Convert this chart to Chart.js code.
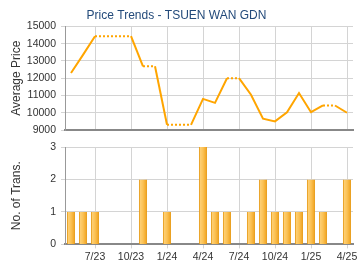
<!DOCTYPE html>
<html>
<head>
<meta charset="utf-8">
<script src="https://cdn.jsdelivr.net/npm/chart.js@4.4.1/dist/chart.umd.min.js"></script>
<style>
  body { margin: 0; background: #fff; }
  canvas { display: block; }
</style>
</head>
<body>
<canvas id="priceChart" width="360" height="135"></canvas>
<canvas id="transChart" width="360" height="135"></canvas>
<script>
var months = ['5/23','6/23','7/23','8/23','9/23','10/23','11/23','12/23',
              '1/24','2/24','3/24','4/24','5/24','6/24','7/24','8/24',
              '9/24','10/24','11/24','12/24','1/25','2/25','3/25','4/25'];
var avgPrice = [12300, 13350, 14430, 14430, 14430, 14430, 12690, 12690,
                9300, 9300, 9300, 10800, 10570, 12000, 12000, 11040,
                9660, 9500, 10030, 11140, 10030, 10420, 10420, 10000];
var transCount = [1, 1, 1, 0, 0, 0, 2, 0, 1, 0, 0, 3, 1, 1, 0, 1, 2, 1, 1, 1, 2, 1, 0, 2];
var priceTicks = [9000, 15000, 1000];
var countTicks = [0, 3, 1];

Chart.defaults.font.family = 'Arial, "Liberation Sans", sans-serif';
Chart.defaults.color = '#333';

var gridColor = '#d4d4d4';
var lineColor = '#FFA500';

// only every 3rd month gets a label and a grid line
function monthLabel(val, i) {
    return (i % 3 === 2) ? months[i] : null;
}

function plainNum(v) { return String(v); }

function fixWidth(scale) { scale.width = 65; }

var priceChart = new Chart(document.getElementById('priceChart'), {
    type: 'line',
    data: {
        labels: months,
        datasets: [{
            data: avgPrice,
            borderColor: lineColor,
            borderWidth: 2,
            pointRadius: 0,
            tension: 0,
            segment: {
                borderDash: function (ctx) {
                    return transCount[ctx.p1DataIndex] === 0 ? [2, 2] : undefined;
                }
            }
        }]
    },
    options: {
        responsive: false,
        animation: false,
        devicePixelRatio: 1,
        layout: { padding: { right: 7, bottom: 0 } },
        plugins: {
            legend: { display: false },
            tooltip: { enabled: false },
            title: {
                display: true,
                text: 'Price Trends - TSUEN WAN GDN',
                color: '#234a7a',
                font: { size: 12, weight: 'normal' },
                padding: { top: 8, bottom: 4 }
            }
        },
        scales: {
            x: {
                offset: true,
                afterFit: function (s) { s.height = 5; },
                grid: { color: gridColor, offset: false, drawTicks: false },
                border: { color: '#888', width: 2 },
                ticks: { display: false, autoSkip: false, callback: monthLabel }
            },
            y: {
                min: priceTicks[0],
                max: priceTicks[1],
                afterFit: function (s) {
                    s.width = 65;
                    s.paddingBottom = 0;
                },
                grid: { color: gridColor, tickLength: 4 },
                border: { color: '#999' },
                ticks: { stepSize: priceTicks[2], padding: 5, font: { size: 10.5 }, callback: plainNum },
                title: {
                    display: true,
                    text: 'Average Price',
                    font: { size: 12 },
                    padding: { top: 9, bottom: 0 }
                }
            }
        }
    }
});

var barChart = new Chart(document.getElementById('transChart'), {
    type: 'bar',
    data: {
        labels: months,
        datasets: [{
            data: transCount,
            categoryPercentage: 1,
            barPercentage: 0.68,
            borderColor: '#E99A12',
            borderWidth: { left: 1, right: 1, top: 0, bottom: 0 },
            backgroundColor: function (ctx) {
                var chart = ctx.chart;
                if (!chart.chartArea) return '#F8BA48';
                var x = chart.scales.x.getPixelForValue(ctx.dataIndex);
                var g = chart.ctx.createLinearGradient(x - 4, 0, x + 4, 0);
                g.addColorStop(0, '#FFD580');
                g.addColorStop(0.5, '#FBC256');
                g.addColorStop(1, '#EFA01A');
                return g;
            }
        }]
    },
    options: {
        responsive: false,
        animation: false,
        devicePixelRatio: 1,
        layout: { padding: { top: 12, right: 7, bottom: 5 } },
        plugins: {
            legend: { display: false },
            tooltip: { enabled: false }
        },
        scales: {
            x: {
                offset: true,
                grid: { color: gridColor, offset: false, tickLength: 4 },
                border: { color: '#888', width: 2 },
                ticks: {
                    autoSkip: false,
                    maxRotation: 0,
                    padding: 2,
                    font: { size: 10.5 },
                    callback: monthLabel
                }
            },
            y: {
                min: countTicks[0],
                max: countTicks[1],
                afterFit: fixWidth,
                grid: { color: gridColor, tickLength: 4 },
                border: { color: '#999' },
                ticks: { stepSize: countTicks[2], padding: 5, font: { size: 10.5 } },
                title: {
                    display: true,
                    text: 'No. of Trans.',
                    font: { size: 12 },
                    padding: { top: 9, bottom: 0 }
                }
            }
        }
    }
});
</script>
</body>
</html>
